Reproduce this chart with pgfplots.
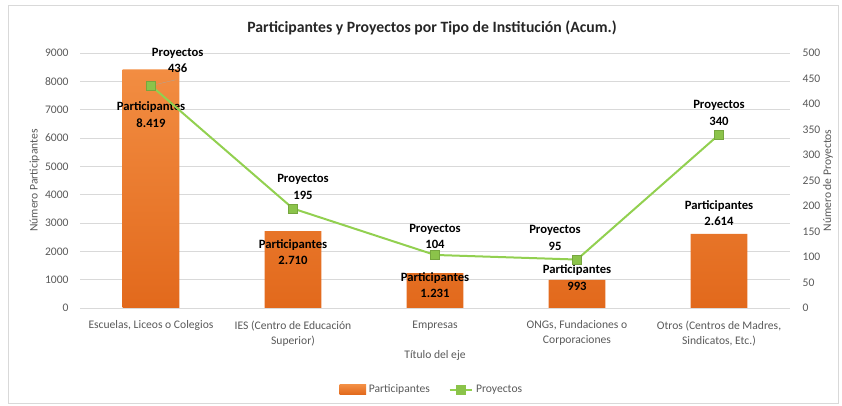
\documentclass[border=0pt]{standalone}
\usepackage{pgfplots}
\pgfplotsset{compat=1.18}
\usepackage{pgfplotstable}
\usepackage{fontspec}
\setmainfont{Carlito}

\definecolor{barTop}{HTML}{F28D42}
\definecolor{barBot}{HTML}{E2691C}
\definecolor{lineGreen}{HTML}{92D050}
\definecolor{markGreen}{HTML}{8BC34A}
\definecolor{tickGray}{HTML}{595959}
\definecolor{gridGray}{HTML}{D9D9D9}

% participantes por tipo de institucion (dy = desplazamiento de la etiqueta)
\pgfplotstableread{
x y dy
0 8419 -34
1 2710 -15.75
2 1231 -9
3 993 1.5
4 2614 15.75
}\participantes

% proyectos acumulados
\pgfplotstableread{
x y dx dy
0 436 20 19
1 195 7.5 16
2 104 0 14
3 95 -16.5 16
4 340 0 16
}\proyectos

\begin{document}
\begin{tikzpicture}[font=\fontsize{8.7}{11.25}\selectfont]
\path (0,0) rectangle (631.5pt,304.5pt);
\draw[gridGray] (6pt,2pt) rectangle (628.5pt,300.75pt);
\node[font=\fontsize{11.8}{14}\selectfont\bfseries, text=black!85] at (324pt,283.5pt)
  {Participantes y Proyectos por Tipo de Institución (Acum.)};

\begin{axis}[
    at={(60pt,73.5pt)}, anchor=south west,
    width=532.5pt, height=191.25pt, scale only axis,
    xmin=-0.5, xmax=4.5, ymin=0, ymax=9000,
    ytick={0,1000,...,9000},
    xtick={0,...,4},
    xticklabels={{Escuelas, Liceos o Colegios},
                 {IES (Centro de Educación\\Superior)},
                 {Empresas},
                 {ONGs, Fundaciones o\\Corporaciones},
                 {Otros (Centros de Madres,\\Sindicatos, Etc.)}},
    xticklabel style={align=center, text=tickGray, yshift=-6pt},
    yticklabel style={text=tickGray, xshift=-5pt, /pgf/number format/1000 sep={}},
    /pgf/number format/assume math mode=true,
    /pgf/number format/1000 sep={.},
    major tick length=0,
    axis line style={draw=none},
    ymajorgrids, grid style={gridGray, line width=0.6pt},
    xlabel={Título del eje},
    xlabel style={at={(axis description cs:0.5,0)}, anchor=center, yshift=-35.25pt, text=tickGray},
    ylabel={Número Participantes},
    ylabel style={at={(axis description cs:0,0.5)}, anchor=center, yshift=34pt, text=tickGray},
    legend style={at={(0.496,-0.32)}, anchor=center, draw=none, fill=none,
                  legend columns=2, text=tickGray,
                  /tikz/every even column/.append style={column sep=12pt}},
]
\addplot[ybar, bar width=0.4, draw=none, top color=barTop, bottom color=barBot,
    legend image code/.code={\fill[barBot!85!barTop] (0pt,-3.5pt) rectangle (20pt,3.5pt);},
    nodes near coords={Participantes\\\pgfmathprintnumber{\pgfplotspointmeta}},
    visualization depends on={\thisrow{dy}\as\dy},
    nodes near coords style={anchor=center, align=center, yshift=\dy pt,
        text=black, font=\fontsize{9.5}{12.5}\selectfont\bfseries}]
    table[x=x, y=y] {\participantes};
\addlegendentry{Participantes}
\addlegendimage{lineGreen, line width=1.5pt, mark=square*, mark size=3pt,
    mark options={fill=markGreen, draw=markGreen}}
\addlegendentry{Proyectos}
\end{axis}

\begin{axis}[
    at={(60pt,73.5pt)}, anchor=south west,
    width=532.5pt, height=191.25pt, scale only axis,
    xmin=-0.5, xmax=4.5, ymin=0, ymax=500,
    ytick={0,50,...,500},
    axis x line=none, axis y line*=right,
    axis line style={draw=none},
    major tick length=0,
    yticklabel style={text=tickGray, xshift=6pt},
    /pgf/number format/assume math mode=true,
    ylabel={Número de Proyectos},
    ylabel style={at={(axis description cs:1,0.5)}, anchor=center, yshift=-28.5pt, text=tickGray},
    clip=false,
]
\draw[gray!70, very thin] (axis cs:0,436) -- ++(19pt,4.5pt);
\addplot[lineGreen, line width=1.5pt, mark=square*, mark size=3.2pt,
    mark options={fill=markGreen, draw=markGreen!85!black, line width=0.4pt},
    nodes near coords={Proyectos\\\pgfmathprintnumber{\pgfplotspointmeta}},
    visualization depends on={\thisrow{dx}\as\dx},
    visualization depends on={\thisrow{dy}\as\dy},
    nodes near coords style={anchor=center, align=center, xshift=\dx pt, yshift=\dy pt,
        text=black, font=\fontsize{9.5}{12.5}\selectfont\bfseries}]
    table[x=x, y=y] {\proyectos};
\end{axis}
\end{tikzpicture}
\end{document}
